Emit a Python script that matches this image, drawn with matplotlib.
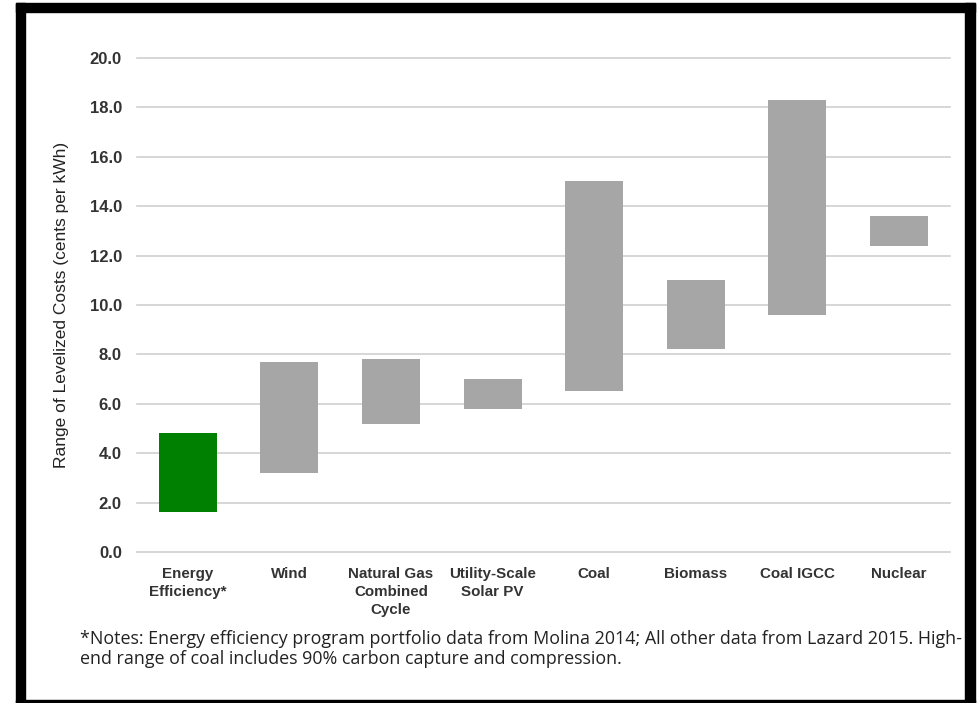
import matplotlib
matplotlib.use('Agg')
import matplotlib.pyplot as plt
from matplotlib.patches import Rectangle

# Faixas de custo nivelado (centavos por kWh)
categorias = ["Energy\nEfficiency*", "Wind", "Natural Gas\nCombined\nCycle",
              "Utility-Scale\nSolar PV", "Coal", "Biomass", "Coal IGCC", "Nuclear"]
minimo = [1.6, 3.2, 5.2, 5.8, 6.5, 8.2, 9.6, 12.4]
maximo = [4.8, 7.7, 7.8, 7.0, 15.0, 11.0, 18.3, 13.6]
cores = ["#008000"] + ["#A6A6A6"] * 7
yticks = [0, 2, 4, 6, 8, 10, 12, 14, 16, 18, 20]

nota = ("*Notes: Energy efficiency program portfolio data from Molina 2014; All other data from Lazard 2015. High-\n"
        "end range of coal includes 90% carbon capture and compression.")

fig = plt.figure(figsize=(9.79, 7.03), dpi=100)
ax = fig.add_axes([0.140, 0.2148, 0.830, 0.7027])

x = list(range(len(categorias)))
alturas = [hi - lo for lo, hi in zip(minimo, maximo)]
ax.bar(x, alturas, bottom=minimo, width=0.57, color=cores, zorder=3)

ax.set_xlim(-0.5, len(categorias) - 0.5)
ax.set_ylim(0, 20)
ax.set_yticks(yticks)
ax.set_yticklabels([f"{v:.1f}" for v in yticks], fontsize=12, fontweight='bold',
                   color='#333333', family='Liberation Sans')
ax.set_xticks(x)
ax.set_xticklabels(categorias, fontsize=10.9, fontweight='bold', color='#333333',
                   family='Liberation Sans', linespacing=1.35)
ax.tick_params(axis='both', length=0)
ax.tick_params(axis='y', pad=11)
ax.tick_params(axis='x', pad=11)
for s in ax.spines.values():
    s.set_visible(False)
ax.grid(axis='y', color='#D0D0D0', linewidth=1.2, zorder=0)
ax.set_axisbelow(True)
for gl in ax.get_ygridlines():
    gl.set_clip_on(False)

ax.set_ylabel("Range of Levelized Costs (cents per kWh)", fontsize=12.5,
              family='Liberation Sans', color='#222222', labelpad=15)

fig.text(0.082, 0.104, nota, fontsize=12.9, family='Open Sans', color='#222222',
         va='top', ha='left', linespacing=1.15)

# moldura preta
for (x0, y0, w, h) in [(16, 3, 9, 700), (16, 3, 959, 9), (965, 3, 10, 700), (16, 700, 959, 3)]:
    fig.patches.append(Rectangle((x0 / 979, 1 - (y0 + h) / 703), w / 979, h / 703,
                                 transform=fig.transFigure, color='black', zorder=10))

fig.savefig("out.png", dpi=100)
plt.close()
